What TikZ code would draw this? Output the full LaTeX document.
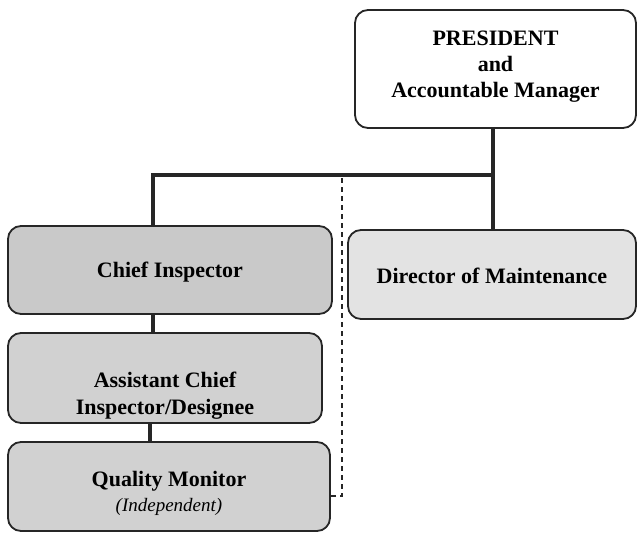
\documentclass[tikz,border=0pt]{standalone}
\usepackage{fontspec}
\setmainfont{Liberation Serif}
\begin{document}
\begin{tikzpicture}[x=1pt,y=-1pt,
  box/.style={draw=black!85, line width=1.8pt, rounded corners=13pt, inner sep=0pt},
  txt/.style={align=center, inner sep=0pt, font=\fontsize{22}{26}\selectfont\bfseries},
  link/.style={line width=3.6pt, draw=black!85},
  dotlink/.style={line width=1.1pt, dash pattern=on 5pt off 4pt, draw=black!85}]
\useasboundingbox (0,0) rectangle (638,536);
\node[box, fill=white, minimum width=281pt, minimum height=118pt] (pres) at (495.5,69) {};
\node[txt] (prest) at ([yshift=2pt]pres.center) {PRESIDENT\\and\\Accountable Manager};
\node[box, fill=black!21, minimum width=324pt, minimum height=88pt] (chief) at (170,270) {};
\node[txt] (chieft) at ([yshift=-2pt]chief.center) {Chief Inspector};
\node[box, fill=black!11, minimum width=288pt, minimum height=89pt] (dom) at (492,274.5) {};
\node[txt] (domt) at ([yshift=-1pt]dom.center) {Director of Maintenance};
\node[box, fill=black!18, minimum width=314pt, minimum height=90pt] (aci) at (165,378) {};
\node[txt, font=\fontsize{22}{27}\selectfont\bfseries] (acit) at ([yshift=-18pt]aci.center) {Assistant Chief\\Inspector/Designee};
\node[box, fill=black!18, minimum width=322pt, minimum height=89pt] (qm) at (169,486.5) {};
\node[txt, font=\fontsize{22}{25}\selectfont\bfseries] (qmt) at ([yshift=-7pt]qm.center)
  {Quality Monitor\\{\fontsize{19}{22}\selectfont\mdseries\itshape (Independent)}};
\coordinate (cj) at (153,175);
\coordinate (dtop) at (342,178);
\coordinate (dbot) at (342,496);
\draw[link] (dom.north -| 493,0) -- (493,175 |- pres.south);
\draw[link] (493,175) -- (cj) -- (cj |- chief.north);
\draw[link] (chief.south -| cj) -- (aci.north -| cj);
\draw[link] (aci.south -| 150,0) -- (qm.north -| 150,0);
\draw[dotlink] (dtop) -- (dbot) -- (dbot -| qm.east);
\end{tikzpicture}
\end{document}
